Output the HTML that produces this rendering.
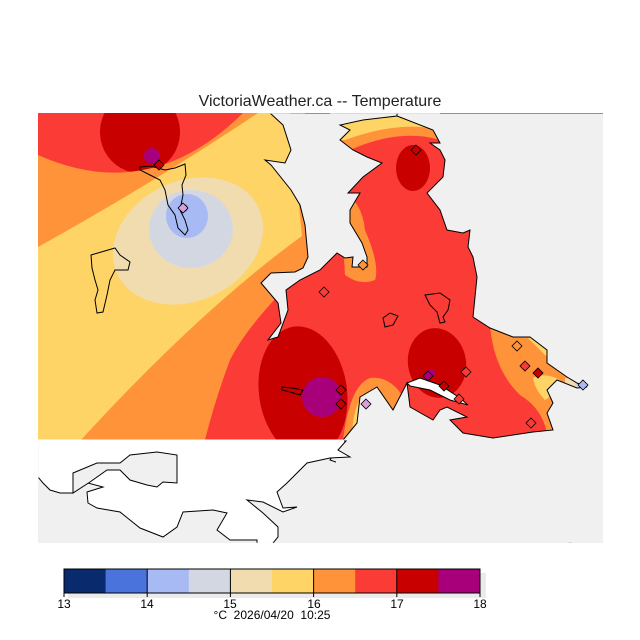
<!DOCTYPE html>
<html><head><meta charset="utf-8"><style>
html,body{margin:0;padding:0;background:#fff;}
svg{display:block;}
text{font-family:"Liberation Sans",sans-serif;}
</style></head><body>
<svg width="640" height="640" viewBox="0 0 640 640" xmlns="http://www.w3.org/2000/svg">
<defs>
<clipPath id="c"><rect x="38" y="113" width="565" height="327"/></clipPath>
<clipPath id="m"><rect x="38.5" y="113.8" width="564.5" height="429"/></clipPath>
</defs>
<rect width="640" height="640" fill="#fff"/>
<text x="320" y="106" font-size="16" text-anchor="middle" fill="#222">VictoriaWeather.ca -- Temperature</text>
<rect x="38" y="113" width="565" height="430" fill="#f0f0f0"/>
<g clip-path="url(#c)">
<rect x="38" y="113" width="565" height="327" fill="#fb3b36"/>
<ellipse cx="140" cy="132" rx="40" ry="41" fill="#c80000"/>
<circle cx="152" cy="156" r="8" fill="#a8007a"/>
<path d="M38,155 Q150,205 243,113 L305,113 L312,262 Q250,320 230,360 Q215,400 205,440 L38,440 Z" fill="#fe9339"/>
<path d="M38,247 Q150,185 258,113 L290,113 L302,236 Q200,310 81,440 L38,440 Z" fill="#fed466"/>
<ellipse cx="188" cy="241" rx="78" ry="60" transform="rotate(-25 188 241)" fill="#f1dcb0"/>
<ellipse cx="191" cy="229" rx="42" ry="39" fill="#d3d7e2"/>
<ellipse cx="187" cy="216" rx="21" ry="22" fill="#a8baf4"/>
<circle cx="184" cy="208" r="4" fill="#4a73dc"/>
<ellipse cx="303" cy="392" rx="44" ry="66" transform="rotate(-8 303 392)" fill="#c80000"/>
<circle cx="322" cy="397" r="20" fill="#a8007a"/>
<path d="M343,440 Q350,385 370,378 Q395,375 410,410 L400,440 Z" fill="#fe9339"/>
<path d="M352,432 Q355,395 370,392 Q385,392 390,410 L380,430 Z" fill="#fed466"/>
<ellipse cx="372" cy="408" rx="13" ry="10" fill="#f1dcb0"/>
<path d="M330,113 L440,113 L440,140 Q400,128 350,150 L330,150 Z" fill="#fe9339"/>
<path d="M330,113 L440,113 L440,130 Q400,120 345,140 L330,140 Z" fill="#fed466"/>
<path d="M395,113 L440,113 L438,126 Q420,120 395,117 Z" fill="#f1dcb0"/>
<ellipse cx="413" cy="168" rx="17" ry="23" fill="#c80000"/>
<path d="M340,190 Q362,200 365,230 Q380,265 375,280 Q360,286 345,275 Z" fill="#fe9339"/>
<ellipse cx="437" cy="363" rx="29" ry="35" transform="rotate(-10 437 363)" fill="#c80000"/>
<circle cx="431" cy="373" r="4" fill="#a8007a"/>
<path d="M490,326 Q494,370 520,395 Q545,410 548,440 L603,440 L603,320 Z" fill="#fe9339"/>
<path d="M528,338 Q540,350 555,365 Q575,378 590,388 L590,340 Z" fill="#fed466"/>
<path d="M533,378 Q545,372 560,380 Q555,395 545,400 Q535,390 533,378 Z" fill="#fed466"/>
<path d="M565,378 L590,380 L590,392 L565,390 Z" fill="#f1dcb0"/>
<path d="M575,380 L590,382 L590,392 L575,390 Z" fill="#d3d7e2"/>
</g>
<g clip-path="url(#m)">
<path d="M270,110 L270,113 L283,125 L291,150 L285,163 L265,160 L271,165 L291,190 L300,205 L305,225 L308,257 L303,268 L295,272 L271,273 L261,283 L278,303 L281,323 L268,340 L278,337 L288,310 L286,290 L300,280 L320,270 L337,253 L345,258 L353,257 L352,267 L367,267 L367,257 L362,243 L350,223 L350,210 L360,193 L348,193 L363,177 L382,163 L367,157 L353,150 L340,140 L350,130 L340,125 L363,120 L397,116 L400,110 Z" fill="#f0f0f0" stroke="#000" stroke-width="1"/>
<path d="M397,110 L397,116 L433,130 L440,143 L430,143 L440,150 L445,160 L443,177 L427,193 L440,210 L447,230 L463,233 L470,230 L468,247 L473,257 L477,277 L473,317 L490,328 L513,337 L530,337 L547,350 L547,363 L567,377 L577,383 L587,387 L577,388 L557,380 L547,390 L553,403 L547,413 L553,430 L533,432 L493,438 L463,433 L450,420 L467,417 L447,407 L440,410 L433,420 L410,407 L407,383 L393,410 L377,387 L360,397 L357,423 L343,440 L330,460 L620,560 L620,110 Z" fill="#f0f0f0" stroke="#000" stroke-width="1"/>
<rect x="336" y="441" width="280" height="110" fill="#f0f0f0"/>
<path d="M407,383 L420,378 L440,385 L460,398 L468,405 L450,400 L430,390 L410,386 Z" fill="#fff" stroke="#000" stroke-width="1"/>
<path d="M30,441 L346,441 L338,450 L350,457 L330,458 L307,463 L297,473 L287,483 L277,492 L283,508 L297,507 L283,512 L263,502 L247,500 L263,513 L278,527 L278,537 L273,543 L273,560 L257,560 L257,540 L230,540 L217,530 L227,513 L213,510 L183,512 L177,527 L163,537 L140,528 L120,512 L97,508 L88,503 L87,492 L103,487 L88,483 L73,493 L60,493 L50,490 L43,483 L38,477 L30,477 Z" fill="#fff" stroke="#000" stroke-width="1"/>
</g>
<rect x="38" y="543" width="300" height="20" fill="#fff"/>
<rect x="38" y="439.5" width="306" height="2.5" fill="#fff"/>
<path d="M73,493 L73,473 L97,463 L120,463 L130,455 L157,452 L177,455 L177,483 L163,482 L157,487 L147,485 L130,480 L120,470 L107,470 L90,482 Z" fill="#f0f0f0" stroke="#000" stroke-width="1"/>
<g fill="none" stroke="#000" stroke-width="1">
<path d="M91,255 L115,248 L120,255 L130,262 L128,270 L115,270 L110,280 L107,295 L103,312 L97,313 L95,300 L98,290 L95,280 L92,268 Z"/>
<path d="M140,167 L150,166 L165,170 L175,168 L185,164 L186,175 L182,185 L183,195 L180,210 L185,220 L188,230 L185,235 L178,228 L175,215 L168,205 L165,190 L160,180 L150,175 L140,170 Z"/>
<path d="M282,387 L292,388 L303,390 L300,395 L290,392 L282,390 Z"/>
<path d="M425,295 L440,293 L450,300 L448,310 L443,317 L445,322 L440,323 L437,312 L430,305 Z"/>
<path d="M383,318 L390,313 L398,316 L393,325 L385,327 Z"/>
</g>
<g stroke="#000" stroke-width="0.8">
<path d="M159,160 l5,5 l-5,5 l-5,-5 Z" fill="#c80000"/>
<path d="M183,203 l5,5 l-5,5 l-5,-5 Z" fill="#d8a0d8"/>
<path d="M416,145 l5,5 l-5,5 l-5,-5 Z" fill="#c80000"/>
<path d="M363,260 l5,5 l-5,5 l-5,-5 Z" fill="#fe9339"/>
<path d="M324,287 l5,5 l-5,5 l-5,-5 Z" fill="#fb3b36"/>
<path d="M517,341 l5,5 l-5,5 l-5,-5 Z" fill="#fe9339"/>
<path d="M525,361 l5,5 l-5,5 l-5,-5 Z" fill="#fb3b36"/>
<path d="M538,368 l5,5 l-5,5 l-5,-5 Z" fill="#c80000"/>
<path d="M583,380 l5,5 l-5,5 l-5,-5 Z" fill="#a8baf4"/>
<path d="M466,367 l5,5 l-5,5 l-5,-5 Z" fill="#fb3b36"/>
<path d="M428,371 l5,5 l-5,5 l-5,-5 Z" fill="#a8007a"/>
<path d="M444,381 l5,5 l-5,5 l-5,-5 Z" fill="#c80000"/>
<path d="M459,394 l5,5 l-5,5 l-5,-5 Z" fill="#fb3b36"/>
<path d="M531,418 l5,5 l-5,5 l-5,-5 Z" fill="#fb3b36"/>
<path d="M341,385 l5,5 l-5,5 l-5,-5 Z" fill="#c80000"/>
<path d="M341,399 l5,5 l-5,5 l-5,-5 Z" fill="#c80000"/>
<path d="M366,399 l5,5 l-5,5 l-5,-5 Z" fill="#d8a0d8"/>
</g>
<rect x="68" y="573" width="418" height="25" fill="#ebebeb"/>
<g>
<rect x="64" y="569" width="42" height="24" fill="#0a2a6e"/>
<rect x="105.6" y="569" width="42" height="24" fill="#4a73dc"/>
<rect x="147.2" y="569" width="42" height="24" fill="#a8baf4"/>
<rect x="188.8" y="569" width="42" height="24" fill="#d3d7e2"/>
<rect x="230.4" y="569" width="42" height="24" fill="#f1dcb0"/>
<rect x="272" y="569" width="42" height="24" fill="#fed466"/>
<rect x="313.6" y="569" width="42" height="24" fill="#fe9339"/>
<rect x="355.2" y="569" width="42" height="24" fill="#fb3b36"/>
<rect x="396.8" y="569" width="42" height="24" fill="#c80000"/>
<rect x="438.4" y="569" width="41.6" height="24" fill="#a8007a"/>
</g>
<rect x="64" y="569" width="416" height="24" fill="none" stroke="#000" stroke-width="1"/>
<g stroke="#000" stroke-width="1">
<line x1="147.2" y1="569" x2="147.2" y2="597"/>
<line x1="230.4" y1="569" x2="230.4" y2="597"/>
<line x1="313.6" y1="569" x2="313.6" y2="597"/>
<line x1="396.8" y1="569" x2="396.8" y2="597"/>
<line x1="64" y1="569" x2="64" y2="597"/>
<line x1="480" y1="569" x2="480" y2="597"/>
</g>
<g font-size="12" text-anchor="middle" fill="#000">
<text x="64" y="608">13</text>
<text x="147" y="608">14</text>
<text x="230" y="608">15</text>
<text x="314" y="608">16</text>
<text x="397" y="608">17</text>
<text x="480" y="608">18</text>
<text x="272" y="619" xml:space="preserve" style="white-space:pre">°C  2026/04/20  10:25</text>
</g>
</svg>
</body></html>
